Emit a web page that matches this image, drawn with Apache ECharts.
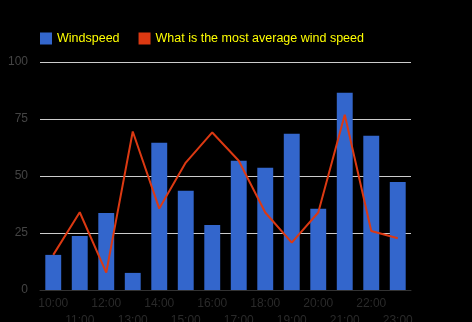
<!DOCTYPE html>
<html>
<head>
<meta charset="utf-8">
<script src="https://cdn.jsdelivr.net/npm/echarts@6/dist/echarts.min.js"></script>
<style>
html,body{margin:0;padding:0;background:#000;}
#c{width:472px;height:322px;}
</style>
</head>
<body>
<div id="c"></div>
<script>
const categories = ['10:00','11:00','12:00','13:00','14:00','15:00','16:00','17:00','18:00','19:00','20:00','21:00','22:00','23:00'];
const windspeed = [15.4, 23.7, 33.8, 7.5, 64.6, 43.5, 28.5, 56.7, 53.6, 68.5, 35.6, 86.5, 67.6, 47.4];
const averageSpeed = [15.4, 34.1, 7.6, 69.5, 35.7, 55.9, 69.1, 56.7, 34.0, 20.8, 34.0, 76.9, 25.9, 22.7];
const seriesNames = ['Windspeed', 'What is the most average wind speed'];

const chart = echarts.init(document.getElementById('c'), null, {renderer: 'canvas'});
const FONT = "'Liberation Sans', Arial, sans-serif";
chart.setOption({
  backgroundColor: '#000000',
  animation: false,
  textStyle: {fontFamily: FONT},
  legend: {
    left: 40, top: 32, padding: 0,
    itemWidth: 12, itemHeight: 12, itemGap: 19,
    icon: 'rect',
    textStyle: {color: '#ffff00', fontSize: 12.5, fontFamily: FONT},
    data: seriesNames
  },
  grid: {left: 40, right: 61, top: 62, bottom: 32, containLabel: false, outerBoundsMode: 'none'},
  xAxis: {
    type: 'category',
    data: categories,
    axisLine: {show: true, lineStyle: {color: '#333333', width: 1}},
    axisTick: {show: false},
    axisLabel: {
      interval: 0,
      hideOverlap: false,
      color: '#2a2a2a',
      fontSize: 12,
      fontFamily: FONT,
      margin: 5,
      lineHeight: 17,
      formatter: function (v, i) { return i % 2 === 1 ? '\n' + v : v; }
    }
  },
  yAxis: {
    type: 'value',
    min: 0, max: 100, interval: 25,
    axisLine: {show: false},
    axisTick: {show: false},
    splitLine: {lineStyle: {color: '#cccccc', width: 1}},
    axisLabel: {color: '#444444', fontSize: 12, fontFamily: FONT, margin: 12}
  },
  series: [
    {
      name: seriesNames[0],
      type: 'bar',
      data: windspeed,
      barCategoryGap: '40%',
      itemStyle: {color: '#3366cc'}
    },
    {
      name: seriesNames[1],
      type: 'line',
      data: averageSpeed,
      showSymbol: false,
      symbol: 'none',
      itemStyle: {color: '#dc3912'},
      lineStyle: {color: '#dc3912', width: 2}
    }
  ]
});
</script>
</body>
</html>
